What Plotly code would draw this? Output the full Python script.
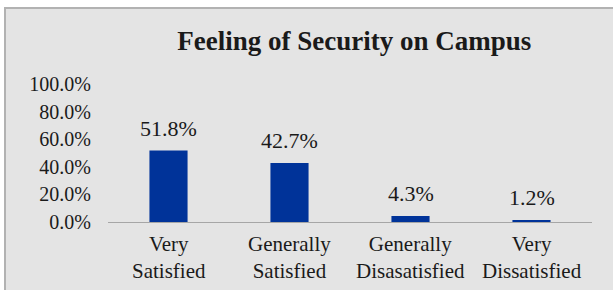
import plotly.graph_objects as go

categories = ["Very Satisfied", "Generally Satisfied", "Generally Disasatisfied", "Very Dissatisfied"]
cat_line1 = ["Very", "Generally", "Generally", "Very"]
cat_line2 = ["Satisfied", "Satisfied", "Disasatisfied", "Dissatisfied"]
values = [51.8, 42.7, 4.3, 1.2]
value_labels = ["51.8%", "42.7%", "4.3%", "1.2%"]
y_ticks = [0, 20, 40, 60, 80, 100]
y_tick_labels = ["0.0%", "20.0%", "40.0%", "60.0%", "80.0%", "100.0%"]
title_text = "Feeling of Security on Campus"

W, H = 613, 290
L, R, T, B = 108, 21, 84, 68
pw, ph = W - L - R, H - T - B

serif = "Liberation Serif, Times New Roman, serif"
txt = "#1a1a1a"

fig = go.Figure()
fig.add_trace(go.Bar(x=categories, y=values, marker=dict(color="#003399", line=dict(width=0)),
                     hoverinfo="skip"))

annotations = []
for c, v, lab in zip(categories, values, value_labels):
    annotations.append(dict(x=c, y=v, xref="x", yref="y", text=lab, showarrow=False,
                            yanchor="bottom", yshift=8, font=dict(family=serif, size=22, color=txt)))
for c, l1, l2 in zip(categories, cat_line1, cat_line2):
    annotations.append(dict(x=c, y=0, xref="x", yref="paper", text=l1 + "<br>" + l2,
                            showarrow=False, align="center", yanchor="middle", yshift=-35,
                            font=dict(family=serif, size=21, color=txt)))

# background panel with border (top and left visible)
x0 = (5 - L) / pw
y1 = (H - B - 8) / ph
shapes = [dict(type="rect", xref="paper", yref="paper", x0=x0, x1=1.2, y0=-1, y1=y1,
               fillcolor="#e4e4e4", line=dict(color="#b2b2b2", width=2), layer="below")]

fig.update_layout(
    width=W, height=H,
    margin=dict(l=L, r=R, t=T, b=B, pad=0),
    paper_bgcolor="white", plot_bgcolor="rgba(0,0,0,0)",
    bargap=0.685,
    showlegend=False,
    title=dict(text="<b>" + title_text + "</b>", x=312 / W, xanchor="center", xref="paper",
               y=1 - 41 / H, yref="container", yanchor="middle",
               font=dict(family=serif, size=27, color=txt)),
    xaxis=dict(showticklabels=False, showline=True, linecolor="#a6a6a6", linewidth=1,
               showgrid=False, zeroline=False, ticks="", fixedrange=True),
    yaxis=dict(range=[0, 100], tickmode="array", tickvals=y_ticks, ticktext=y_tick_labels,
               showgrid=False, zeroline=False, showline=False, ticks="",
               ticklabelstandoff=16, fixedrange=True,
               tickfont=dict(family=serif, size=20, color=txt)),
    annotations=annotations,
    shapes=shapes,
)
fig.write_html("out.html", config={"displayModeBar": False},
               post_script="document.body.style.margin='0';document.body.style.overflow='hidden';")
